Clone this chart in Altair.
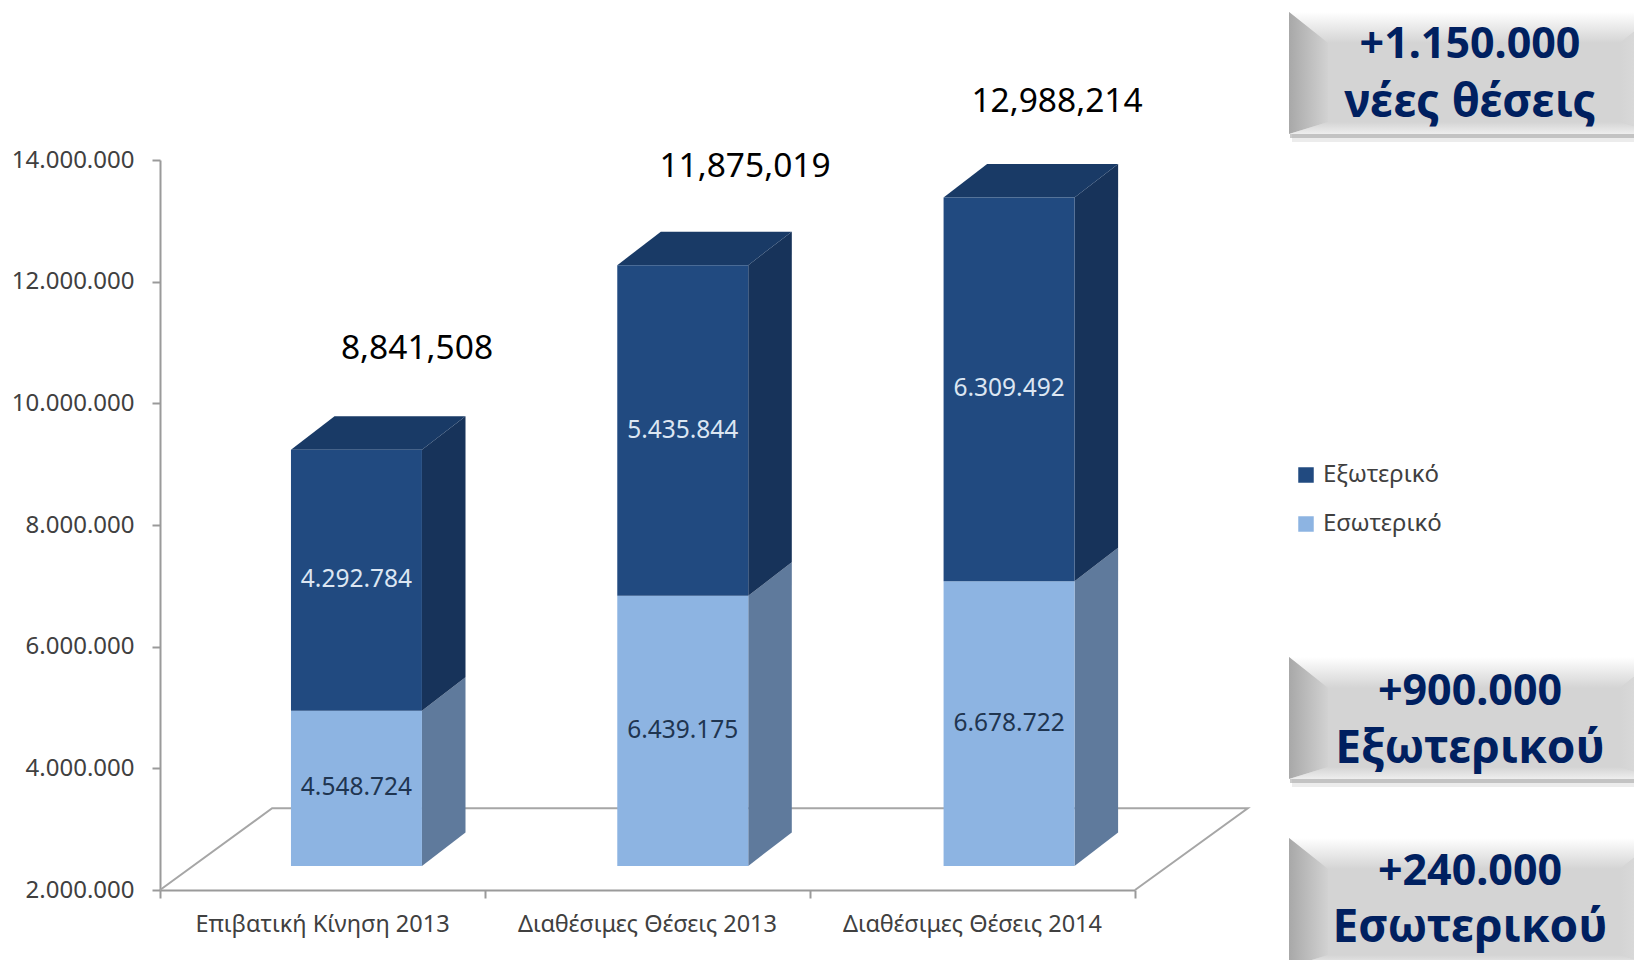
import altair as alt
import pandas as pd

categories = ["Επιβατική Κίνηση 2013", "Διαθέσιμες Θέσεις 2013", "Διαθέσιμες Θέσεις 2014"]
inner_values = [4548724, 6439175, 6678722]
outer_values = [4292784, 5435844, 6309492]
total_labels = ["8,841,508", "11,875,019", "12,988,214"]
series_names = ["Εξωτερικό", "Εσωτερικό"]
y_ticks = [2000000, 4000000, 6000000, 8000000, 10000000, 12000000, 14000000]

FONT = "Noto Sans"
DARK, DARK_SIDE, DARK_TOP = "#214a80", "#17335a", "#193a66"
LIGHT, LIGHT_SIDE = "#8db4e2", "#5f7a9c"
NAVY = "#002060"
AXIS = "#9a9a9a"

# plot geometry (pixels in page, used only to translate decoration positions)
PX0, PY0, PW, PH = 160, 158, 975, 730
Y0, Y1 = 2000000, 14000000
XD = alt.Scale(domain=[0, 3], nice=False, zero=False)
YD = alt.Scale(domain=[Y0, Y1], nice=False, zero=False)


def ux(px):
    return (px - PX0) / PW * 3


def uy(py):
    return Y0 + (PY0 + PH - py) / PH * (Y1 - Y0)


BAR_LEFT, BAR_W, DEPTH_X = 0.403, 0.403, 0.134
BAR_STEP = 1.004
FRONT_LIFT, DEPTH_Y = 396000, 551000

front, side, top, seg_labels, totals = [], [], [], [], []
for i, cat in enumerate(categories):
    xl = i * BAR_STEP + BAR_LEFT
    xr = xl + BAR_W
    a = inner_values[i]
    b = a + outer_values[i]
    for name, lo, hi, val in ((series_names[1], Y0, a, a), (series_names[0], a, b, outer_values[i])):
        bot = FRONT_LIFT + lo
        t = FRONT_LIFT + hi
        front.append(dict(x=xl, x2=xr, y=bot, y2=t, s=name))
        side.append(dict(id=f"{i}{name}", s=name, x=xr, y=bot, y2=t))
        side.append(dict(id=f"{i}{name}", s=name, x=xr + DEPTH_X, y=bot + DEPTH_Y, y2=t + DEPTH_Y))
        seg_labels.append(dict(x=(xl + xr) / 2, y=(bot + t) / 2, s=name,
                               t=f"{val:,}".replace(",", ".")))
    t = FRONT_LIFT + b
    top += [dict(id=i, x=xl, y=t, y2=t),
            dict(id=i, x=xl + DEPTH_X, y=t, y2=t + DEPTH_Y),
            dict(id=i, x=xr, y=t, y2=t + DEPTH_Y),
            dict(id=i, x=xr + DEPTH_X, y=t + DEPTH_Y, y2=t + DEPTH_Y)]

total_x_px = [417, 745, 1057]
total_y_px = [347, 165, 100]
for lab, xp, yp in zip(total_labels, total_x_px, total_y_px):
    totals.append(dict(x=ux(xp), y=uy(yp), t=lab))

df_front = pd.DataFrame(front)
df_side = pd.DataFrame(side)
df_top = pd.DataFrame(top)
df_seg = pd.DataFrame(seg_labels)
df_tot = pd.DataFrame(totals)
df_cat = pd.DataFrame(dict(x=[0.5, 1.5, 2.5], y=[uy(923)] * 3, t=categories))

floor_x = [0, 0.345, 3.347, 3.0]
floor_y = [2000000, 3343000, 3343000, 2000000]
df_floor = pd.DataFrame(dict(x=floor_x, y=floor_y, o=[0, 1, 2, 3]))

X_AXIS = alt.Axis(values=[0, 1, 2, 3], labels=False, grid=False, tickSize=8, title=None,
                  tickColor=AXIS, tickWidth=2, domainColor=AXIS, domainWidth=2)
Y_AXIS = alt.Axis(values=y_ticks, grid=False, tickSize=8, tickColor=AXIS, tickWidth=2, title=None,
                  domainColor=AXIS, domainWidth=2, labelColor="#404040",
                  labelFont=FONT, labelFontSize=24, labelPadding=18,
                  labelExpr="replace(format(datum.value, ','), /,/g, '.')")
Xq = alt.X("x:Q", scale=XD, axis=X_AXIS)
Yq = alt.Y("y:Q", scale=YD, axis=Y_AXIS, stack=None)

base_axes = alt.Chart(df_floor).mark_line(color="#a6a6a6", strokeWidth=2).encode(
    x=Xq, y=Yq, order="o:Q")

sides = [
    alt.Chart(df_side[df_side.s == series_names[1]]).mark_area(color=LIGHT_SIDE).encode(
        x=Xq, y=Yq, y2="y2:Q", detail="id:N"),
    alt.Chart(df_side[df_side.s == series_names[0]]).mark_area(color=DARK_SIDE).encode(
        x=Xq, y=Yq, y2="y2:Q", detail="id:N"),
    alt.Chart(df_top).mark_area(color=DARK_TOP).encode(
        x=Xq, y=Yq, y2="y2:Q", detail="id:N"),
]

fronts = alt.Chart(df_front).mark_rect().encode(
    x=Xq, x2="x2:Q", y=Yq, y2="y2:Q",
    color=alt.Color("s:N", scale=alt.Scale(domain=series_names, range=[DARK, LIGHT]),
                    legend=alt.Legend(orient="none", legendX=1134, legendY=303, title=None,
                                      symbolType="square", symbolSize=240, symbolStrokeWidth=0,
                                      labelFont=FONT, labelFontSize=24, labelColor="#404040",
                                      rowPadding=25, labelOffset=5)),
)

text_common = dict(font=FONT, baseline="middle", align="center")
seg_dark = alt.Chart(df_seg[df_seg.s == series_names[1]]).mark_text(
    color="#1f3550", fontSize=24.5, **text_common).encode(x=Xq, y=Yq, text="t:N")
seg_light = alt.Chart(df_seg[df_seg.s == series_names[0]]).mark_text(
    color="#dce6f2", fontSize=24.5, **text_common).encode(x=Xq, y=Yq, text="t:N")
tot_text = alt.Chart(df_tot).mark_text(color="#000000", fontSize=33.5, **text_common).encode(
    x=Xq, y=Yq, text="t:N")
cat_text = alt.Chart(df_cat).mark_text(color="#404040", fontSize=23.5, **text_common).encode(
    x=Xq, y=Yq, text="t:N")

# bevelled call-out panels on the right
panel_tops = [10, 655, 836]
panel_bots = [132, 777, 965]
panel_line1 = ["+1.150.000", "+900.000", "+240.000"]
panel_line2 = ["νέες θέσεις", "Εξωτερικού", "Εσωτερικού"]
line1_y = [43, 690, 870]
line2_y = [101, 747, 926]
PL, PLI, PRI, PR = 1289, 1328, 1620, 1659
PANEL_X = 1470
TOP_B, BOT_B = 31, 12

rows_top, rows_left, rows_bot, rows_right, rows_rect = [], [], [], [], []
rows_shadow, rows_shadow2, rows_t1, rows_t2 = [], [], [], []
for k, (t, b) in enumerate(zip(panel_tops, panel_bots)):
    ti, bi = t + TOP_B, b - BOT_B
    rows_rect.append(dict(x=ux(PL), x2=ux(PR), y=uy(b), y2=uy(t)))
    rows_shadow.append(dict(x=ux(PL + 1), x2=ux(PR), y=uy(b + 4), y2=uy(b)))
    rows_shadow2.append(dict(x=ux(PL + 3), x2=ux(PR), y=uy(b + 8), y2=uy(b)))
    for px, a, c in ((PL, t, t), (PLI, t, ti), (PRI, t, ti), (PR, t, t)):
        rows_top.append(dict(id=k, x=ux(px), y=uy(a), y2=uy(c)))
    for px, a, c in ((PL, t, b), (PLI, ti, bi)):
        rows_left.append(dict(id=k, x=ux(px), y=uy(a), y2=uy(c)))
    for px, a, c in ((PL, b, b), (PLI, bi, b), (PRI, bi, b), (PR, b, b)):
        rows_bot.append(dict(id=k, x=ux(px), y=uy(a), y2=uy(c)))
    for px, a, c in ((PRI, ti, bi), (PR, t, b)):
        rows_right.append(dict(id=k, x=ux(px), y=uy(a), y2=uy(c)))
    rows_t1.append(dict(x=ux(PANEL_X), y=uy(line1_y[k]), t=panel_line1[k]))
    rows_t2.append(dict(x=ux(PANEL_X), y=uy(line2_y[k]), t=panel_line2[k]))


def grad(c0, c1, horizontal=False):
    return alt.Gradient(gradient="linear",
                        stops=[alt.GradientStop(color=c0, offset=0),
                               alt.GradientStop(color=c1, offset=1)],
                        x1=0, y1=0, x2=1 if horizontal else 0, y2=0 if horizontal else 1)


def bevel(rows, color):
    return alt.Chart(pd.DataFrame(rows)).mark_area(color=color).encode(
        x=Xq, y=Yq, y2="y2:Q", detail="id:N")


panel_layers = [
    alt.Chart(pd.DataFrame(rows_shadow2)).mark_rect(color="#c8c8c8", opacity=0.35).encode(
        x=Xq, x2="x2:Q", y=Yq, y2="y2:Q"),
    alt.Chart(pd.DataFrame(rows_shadow)).mark_rect(color="#a8a8a8", opacity=0.6).encode(
        x=Xq, x2="x2:Q", y=Yq, y2="y2:Q"),
    alt.Chart(pd.DataFrame(rows_rect)).mark_rect(color="#d4d4d4").encode(
        x=Xq, x2="x2:Q", y=Yq, y2="y2:Q"),
    bevel(rows_top, grad("#ffffff", "#d4d4d4")),
    bevel(rows_left, grad("#a8a8a8", "#d2d2d2", True)),
    bevel(rows_bot, grad("#d4d4d4", "#eeeeee")),
    bevel(rows_right, grad("#d4d4d4", "#e0e0e0", True)),
    alt.Chart(pd.DataFrame(rows_t1)).mark_text(
        color=NAVY, fontSize=43, fontWeight="bold", **text_common).encode(x=Xq, y=Yq, text="t:N"),
    alt.Chart(pd.DataFrame(rows_t2)).mark_text(
        color=NAVY, fontSize=46, fontWeight="bold", **text_common).encode(x=Xq, y=Yq, text="t:N"),
]

chart = alt.layer(
    base_axes, *sides, fronts, seg_dark, seg_light, tot_text, cat_text, *panel_layers
).properties(
    width=PW, height=PH, background="white",
    autosize=alt.AutoSizeParams(type="none"),
    padding={"left": 152, "top": 152, "right": 499, "bottom": 70},
).configure_view(stroke=None)

chart.save("out.html", embed_options={"renderer": "svg", "actions": False})
